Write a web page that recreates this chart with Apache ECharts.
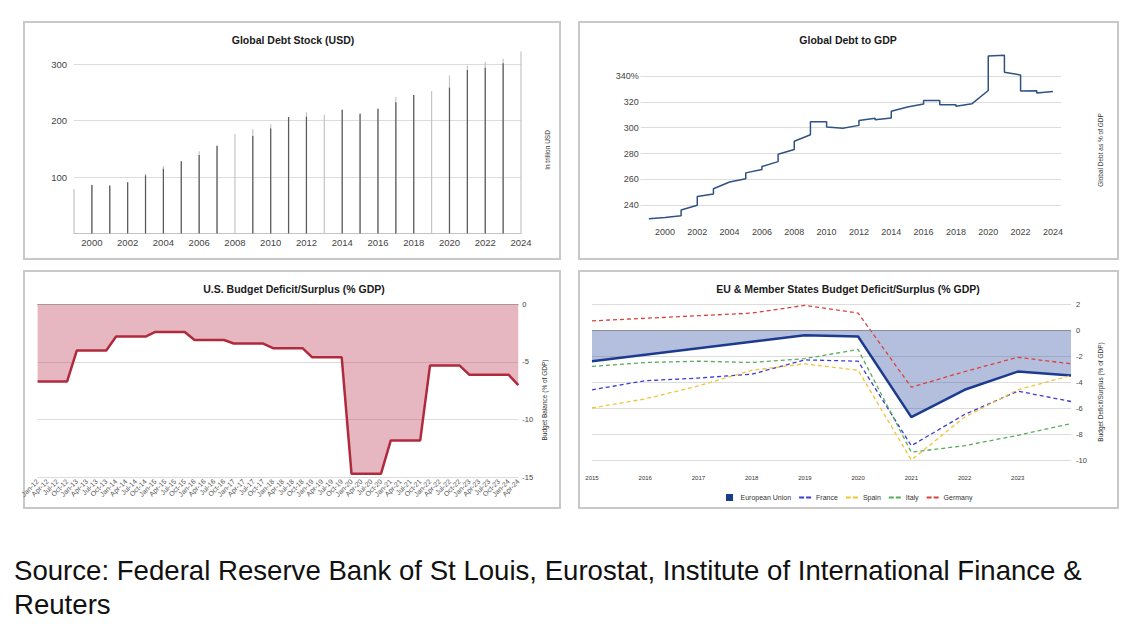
<!DOCTYPE html>
<html lang="en">
<head>
<meta charset="UTF-8">
<title>Global Debt and Budget Balances</title>
<script src="https://cdn.jsdelivr.net/npm/echarts@6/dist/echarts.min.js"></script>
<style>
  html, body { margin: 0; padding: 0; background: #fff; }
  #chart { position: absolute; left: 0; top: 0; width: 1130px; height: 540px; }
  #source {
    position: absolute; left: 14px; top: 554px;
    font-family: 'Liberation Sans', Arial, sans-serif;
    font-size: 27.6px; line-height: 34px; color: #111;
  }
</style>
</head>
<body>
<div id="chart"></div>
<div id="source">Source: Federal Reserve Bank of St Louis, Eurostat, Institute of International Finance &amp;<br>Reuters</div>
<script>
// Global debt stock, trillion USD (two overlapping bar tones)
var stockYears = ['1999', '2000', '2001', '2002', '2003', '2004', '2005', '2006', '2007', '2008', '2009', '2010', '2011',
                  '2012', '2013', '2014', '2015', '2016', '2017', '2018', '2019', '2020', '2021', '2022', '2023', '2024'];
var stockHigh = [79, 86, 85, 91, 106, 119.5, 128, 146, 155.6, 176, 185, 193.5, 206.5,
                 215, 210.6, 219.5, 212.4, 221, 242, 245.6, 252.7, 280, 297.6, 304.7, 310, 322.5];
var stockLow = [null, 86, 85, 91, 103, 115, 128, 139, 155.6, null, 173, 186, 206.5,
                207, null, 219.5, 212.4, 221, 232.5, 245.6, null, 258.6, 290, 294, 302, null];

// Global debt to GDP, %: value just after each year's jump and at the year's end
var gdpYears = [1999, 2000, 2001, 2002, 2003, 2004, 2005, 2006, 2007, 2008, 2009, 2010, 2011,
                2012, 2013, 2014, 2015, 2016, 2017, 2018, 2019, 2020, 2021, 2022, 2023];
var gdpStart = [229.7, 230.5, 236.4, 246.9, 252.8, 258.5, 265.1, 270.0, 279.5, 289.5, 304.6, 300.5, 299.5,
                305.6, 306.1, 312.7, 316.0, 321.1, 317.8, 316.6, 318.6, 355.5, 342.8, 328.3, 326.8];
var gdpEnd = [230.5, 231.9, 240.0, 248.7, 258.0, 260.5, 267.7, 273.8, 283.1, 294.6, 304.6, 299.5, 301.8,
              307.4, 307.6, 316.0, 318.3, 321.1, 317.8, 318.6, 328.8, 356.0, 340.8, 328.5, 328.0];

// U.S. budget balance, % of GDP, quarterly
var usQuarters = ['Jan-12', 'Apr-12', 'Jul-12', 'Oct-12', 'Jan-13', 'Apr-13', 'Jul-13', 'Oct-13',
                  'Jan-14', 'Apr-14', 'Jul-14', 'Oct-14', 'Jan-15', 'Apr-15', 'Jul-15', 'Oct-15',
                  'Jan-16', 'Apr-16', 'Jul-16', 'Oct-16', 'Jan-17', 'Apr-17', 'Jul-17', 'Oct-17',
                  'Jan-18', 'Apr-18', 'Jul-18', 'Oct-18', 'Jan-19', 'Apr-19', 'Jul-19', 'Oct-19',
                  'Jan-20', 'Apr-20', 'Jul-20', 'Oct-20', 'Jan-21', 'Apr-21', 'Jul-21', 'Oct-21',
                  'Jan-22', 'Apr-22', 'Jul-22', 'Oct-22', 'Jan-23', 'Apr-23', 'Jul-23', 'Oct-23',
                  'Jan-24', 'Apr-24'];
var usBalance = [-6.7, -6.7, -6.7, -6.7, -4.0, -4.0, -4.0, -4.0,
                 -2.8, -2.8, -2.8, -2.8, -2.4, -2.4, -2.4, -2.4,
                 -3.1, -3.1, -3.1, -3.1, -3.4, -3.4, -3.4, -3.4,
                 -3.8, -3.8, -3.8, -3.8, -4.6, -4.6, -4.6, -4.6,
                 -14.7, -14.7, -14.7, -14.7, -11.8, -11.8, -11.8, -11.8,
                 -5.3, -5.3, -5.3, -5.3, -6.1, -6.1, -6.1, -6.1,
                 -6.1, -7.0];

// EU & member states budget balance, % of GDP
var euYears = ['2015', '2016', '2017', '2018', '2019', '2020', '2021', '2022', '2023', '2024'];
var euUnion = [-2.4, -1.9, -1.4, -0.9, -0.4, -0.5, -6.7, -4.6, -3.2, -3.5];
var france = [-4.6, -3.9, -3.7, -3.4, -2.3, -2.4, -8.9, -6.5, -4.7, -5.5];
var spain = [-6.0, -5.3, -4.3, -3.1, -2.6, -3.1, -10.0, -6.7, -4.6, -3.5];
var italy = [-2.8, -2.5, -2.4, -2.5, -2.2, -1.5, -9.4, -8.9, -8.1, -7.2];
var germany = [0.7, 0.9, 1.1, 1.3, 1.9, 1.3, -4.4, -3.2, -2.1, -2.6];

var gdpLine = [];
gdpYears.forEach(function (y, i) {
    gdpLine.push([y, gdpStart[i]], [y + 1, gdpEnd[i]]);
});

var font = "'Liberation Sans', Arial, sans-serif";
var gridColor = '#dcdcdc';
var dashIcon = 'path://M0 0H5V2H0Z M7 0H12V2H7Z';

function panelBox(x, y, w, h) {
    return { type: 'rect', shape: { x: x, y: y, width: w, height: h },
             style: { fill: 'none', stroke: '#c8c8c8', lineWidth: 2 }, silent: true };
}
function label(text, x, y, size, bold, rotate) {
    return { type: 'text', x: x, y: y, rotation: rotate ? Math.PI / 2 : 0, silent: true,
             style: { text: text, fontSize: size, fontWeight: bold ? 'bold' : 'normal', fontFamily: font,
                      fill: bold ? '#1a1a1a' : '#333', align: 'center', verticalAlign: 'middle',
                      textAlign: 'center', textVerticalAlign: 'middle' } };
}
function dashed(name, data, color) {
    return { name: name, type: 'line', xAxisIndex: 3, yAxisIndex: 3, data: data, symbol: 'none',
             itemStyle: { color: color }, lineStyle: { color: color, width: 1.3, type: [4, 3] } };
}

var chart = echarts.init(document.getElementById('chart'), null, { renderer: 'svg' });

var option = {
    animation: false,
    textStyle: { fontFamily: font },
    grid: [
        { left: 74, top: 7.9, width: 447, height: 225.6 },
        { left: 640.7, top: 50.1, width: 420.3, height: 181.1 },
        { left: 37.6, top: 304.3, width: 480.7, height: 173 },
        { left: 592, top: 304, width: 479, height: 156 }
    ],
    xAxis: [
        { gridIndex: 0, type: 'category', data: stockYears, boundaryGap: false,
          axisTick: { show: false }, axisLine: { lineStyle: { color: '#c4c4c4' } },
          axisLabel: { color: '#444', fontSize: 9.5, margin: 4,
                       interval: function (i, v) { return Number(v) % 2 === 0; } } },
        { gridIndex: 1, type: 'value', min: 1998.5, max: 2024.5, interval: 0.5, offset: -5,
          axisLine: { show: false }, axisTick: { show: false }, splitLine: { show: false },
          axisLabel: { color: '#444', fontSize: 9, margin: 1,
                       formatter: function (v) { return v % 2 === 0 ? String(v) : ''; } } },
        { gridIndex: 2, type: 'category', data: usQuarters, boundaryGap: false,
          axisTick: { show: false }, axisLine: { lineStyle: { color: '#d0d0d0' } },
          axisLabel: { color: '#555', fontSize: 7, rotate: 45, interval: 0, margin: 3 } },
        { gridIndex: 3, type: 'category', data: euYears, boundaryGap: false,
          axisTick: { show: false }, axisLine: { show: false },
          axisLabel: { color: '#333', fontSize: 6, margin: 15,
                       interval: function (i) { return i < 9; } } }
    ],
    yAxis: [
        { gridIndex: 0, type: 'value', min: 0, max: 400, interval: 100,
          axisLine: { show: false }, axisTick: { show: false },
          splitLine: { showMaxLine: false, lineStyle: { color: gridColor } },
          axisLabel: { color: '#444', fontSize: 9.5, margin: 7,
                       formatter: function (v) { return (v === 0 || v === 400) ? '' : String(v); } } },
        { gridIndex: 1, type: 'value', min: 220, max: 360, interval: 20,
          axisLine: { show: false }, axisTick: { show: false },
          splitLine: { showMinLine: false, showMaxLine: false, lineStyle: { color: gridColor } },
          axisLabel: { color: '#444', fontSize: 9, margin: 2,
                       formatter: function (v) { return v === 340 ? '340%' : ((v === 220 || v === 360) ? '' : String(v)); } } },
        { gridIndex: 2, type: 'value', position: 'right', min: -15, max: 0, interval: 5,
          axisLine: { show: false }, axisTick: { show: false },
          splitLine: { lineStyle: { color: gridColor } },
          axisLabel: { color: '#444', fontSize: 7.5, margin: 4 } },
        { gridIndex: 3, type: 'value', position: 'right', min: -10, max: 2, interval: 2,
          axisLine: { show: false }, axisTick: { show: false },
          splitLine: { lineStyle: { color: gridColor } },
          axisLabel: { color: '#444', fontSize: 7.5, margin: 5 } }
    ],
    legend: {
        data: [
            { name: 'European Union', icon: 'path://M0 0H10V10H0Z' },
            { name: 'France', icon: dashIcon },
            { name: 'Spain', icon: dashIcon },
            { name: 'Italy', icon: dashIcon },
            { name: 'Germany', icon: dashIcon }
        ],
        left: 721, top: 489, itemWidth: 12, itemHeight: 7, itemGap: 8,
        textStyle: { fontSize: 7, color: '#333' }
    },
    graphic: [
        panelBox(24, 22, 536, 237),
        panelBox(579, 22, 539, 237),
        panelBox(24, 271, 536, 237),
        panelBox(579, 271, 539, 237),
        label('Global Debt Stock (USD)', 293, 40, 10.5, true),
        label('Global Debt to GDP', 848, 40, 10.5, true),
        label('U.S. Budget Deficit/Surplus (% GDP)', 294, 289, 10.5, true),
        label('EU & Member States Budget Deficit/Surplus (% GDP)', 848, 289, 10.5, true),
        label('In trillion USD', 547, 150, 6.5, false, true),
        label('Global Debt as % of GDP', 1100, 150, 6.5, false, true),
        label('Budget Balance (% of GDP)', 544, 400, 6.5, false, true),
        label('Budget Deficit/Surplus (% of GDP)', 1100, 392, 6.5, false, true)
    ],
    series: [
        { type: 'bar', xAxisIndex: 0, yAxisIndex: 0, data: stockHigh, barWidth: 1.2, barGap: '-100%',
          itemStyle: { color: '#c4c4c4' } },
        { type: 'bar', xAxisIndex: 0, yAxisIndex: 0, data: stockLow, barWidth: 1.2, barGap: '-100%',
          itemStyle: { color: '#5a5a5a' } },
        { type: 'line', xAxisIndex: 1, yAxisIndex: 1, data: gdpLine, symbol: 'none',
          lineStyle: { color: '#2e5283', width: 1.5 } },
        { type: 'line', xAxisIndex: 2, yAxisIndex: 2, data: usBalance, symbol: 'none',
          itemStyle: { color: '#b02a3e' }, lineStyle: { color: '#b02a3e', width: 2.5 },
          areaStyle: { color: '#c0435c', opacity: 0.38 },
          markLine: { silent: true, symbol: 'none', label: { show: false },
                      lineStyle: { color: '#a8949a', type: 'solid', width: 1 }, data: [{ yAxis: 0 }] } },
        { name: 'European Union', type: 'line', xAxisIndex: 3, yAxisIndex: 3, data: euUnion, symbol: 'none',
          itemStyle: { color: '#1c3b8f' }, lineStyle: { color: '#1c3b8f', width: 2.5 },
          areaStyle: { color: '#3a55a5', opacity: 0.38 },
          markLine: { silent: true, symbol: 'none', label: { show: false },
                      lineStyle: { color: '#8c8c99', type: 'solid', width: 1 }, data: [{ yAxis: 0 }] } },
        dashed('France', france, '#3b3bd6'),
        dashed('Spain', spain, '#f0c43a'),
        dashed('Italy', italy, '#5aab5a'),
        dashed('Germany', germany, '#d9423a')
    ]
};

chart.setOption(option);
</script>
</body>
</html>
